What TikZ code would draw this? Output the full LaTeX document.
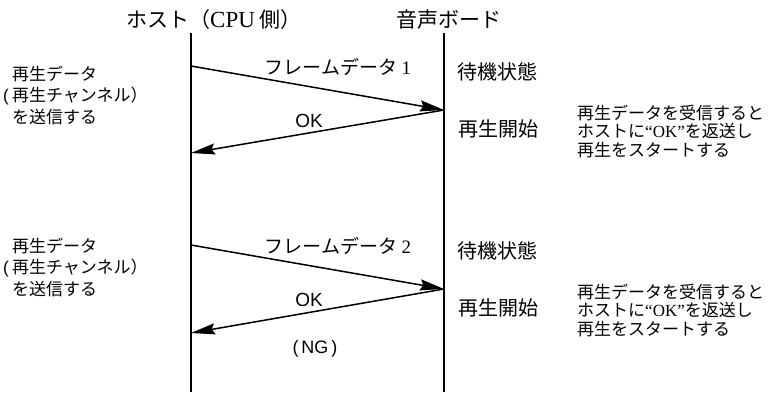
\documentclass[tikz,border=0pt]{standalone}
\usepackage{fontspec}
\setmainfont{Liberation Serif}
\newfontfamily\jp{Noto Sans CJK JP}
\newfontfamily\lsans{Liberation Sans}
\usetikzlibrary{arrows.meta}

\begin{document}
\begin{tikzpicture}[x=1pt,y=-1pt,
  lifeline/.style={line width=1.5pt},
  msg/.style={line width=1.5pt,-{Stealth[length=24pt,width=11pt,inset=3pt]}},
  ttl/.style={font=\jp\fontsize{21}{21}\selectfont, inner sep=0pt},
  lbl/.style={font=\jp\fontsize{19}{19}\selectfont, inner sep=0pt},
  oklbl/.style={font=\lsans\fontsize{19}{19}\selectfont, inner sep=0pt},
  body/.style={font=\jp\fontsize{17}{17}\selectfont, inner sep=0pt, anchor=west},
  state/.style={font=\jp\fontsize{20}{20}\selectfont, inner sep=0pt, anchor=west},
  note/.style={font=\jp\fontsize{17}{18.5}\selectfont, inner sep=0pt, anchor=west, align=left}
]
\useasboundingbox (0,0) rectangle (768,392);

% titles
\node[ttl, anchor=west] (hostT) at (126,20) {ホスト（{\rmfamily\fontsize{23}{23}\selectfont CPU} 側）};
\node[ttl] (boardT) at (449,20) {音声ボード};

% lifelines
\coordinate (h0) at (191,33);
\coordinate (h1) at (191,392);
\coordinate (b0) at (444,33);
\coordinate (b1) at (444,392);
\draw[lifeline] (h0) -- (h1);
\draw[lifeline] (b0) -- (b1);

% message points
\coordinate (a1s) at (191,66);
\coordinate (a1e) at (444,110);
\coordinate (r1e) at (191,153);
\coordinate (a2s) at (191,245);
\coordinate (a2e) at (444,289);
\coordinate (r2e) at (191,333);

\draw[msg] (a1s) -- (a1e);
\draw[msg] (a1e) -- (r1e);
\draw[msg] (a2s) -- (a2e);
\draw[msg] (a2e) -- (r2e);

% labels on messages
\node[lbl] (f1) at (338,67) {フレームデータ {\rmfamily 1}};
\node[oklbl] (ok1) at (309,121) {OK};
\node[lbl] (f2) at (338,246) {フレームデータ {\rmfamily 2}};
\node[oklbl] (ok2) at (309,300) {OK};
\node[oklbl, font=\lsans\fontsize{18}{18}\selectfont] (ng) at (315,349) {(\hspace{3pt}NG\hspace{3pt})};

% left descriptions
\node[body] (L1a) at (12,74) {再生データ};
\node[body] (L1b) at (3,95.5) {{\lsans(}\hspace{3.3pt}再生チャンネル）};
\node[body] (L1c) at (12,117) {を送信する};
\node[body] (L2a) at (12,246) {再生データ};
\node[body] (L2b) at (3,267.5) {{\lsans(}\hspace{3.3pt}再生チャンネル）};
\node[body] (L2c) at (12,289) {を送信する};

% board states
\node[state] (w1) at (457,72) {待機状態};
\node[state] (s1) at (458,129) {再生開始};
\node[state] (w2) at (457,251) {待機状態};
\node[state] (s2) at (458,308) {再生開始};

% notes
\node[note] (n1) at (577,131) {再生データを受信すると\\ホストに{\rmfamily “OK”}を返送し\\再生をスタートする};
\node[note] (n2) at (577,310) {再生データを受信すると\\ホストに{\rmfamily “OK”}を返送し\\再生をスタートする};
\end{tikzpicture}
\end{document}
